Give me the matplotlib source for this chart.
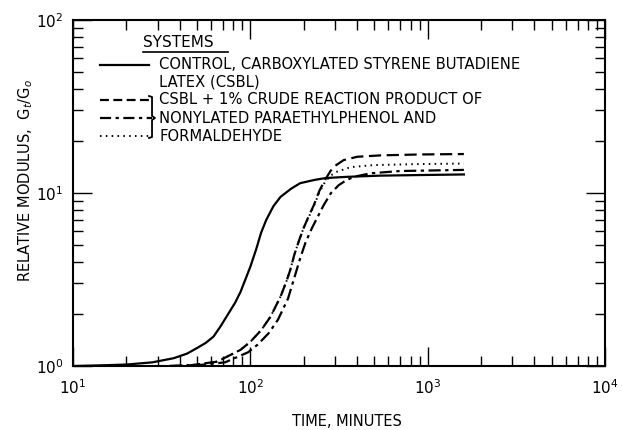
import matplotlib
matplotlib.use("Agg")
import matplotlib.pyplot as plt

# Data (time in minutes, relative modulus Gt/Go)
t_control = [10, 15, 20, 28, 37, 44, 50, 56, 62, 68, 75, 82, 88, 100, 108, 115, 123, 135, 148, 170, 191, 230, 265, 350, 540, 900, 1600]
g_control = [1.00, 1.01, 1.02, 1.05, 1.11, 1.18, 1.27, 1.36, 1.48, 1.7, 2.0, 2.32, 2.68, 3.75, 4.75, 5.9, 7.0, 8.4, 9.5, 10.6, 11.4, 11.9, 12.2, 12.4, 12.6, 12.7, 12.8]

t_dashed = [35, 46, 65, 88, 100, 115, 130, 148, 160, 168, 177, 188, 200, 214, 228, 245, 265, 283, 302, 336, 401, 542, 900, 1600]
g_dashed = [1.0, 1.01, 1.06, 1.24, 1.38, 1.61, 1.93, 2.52, 3.1, 3.6, 4.4, 5.3, 6.3, 7.4, 8.5, 10.3, 12.0, 13.4, 14.4, 15.5, 16.2, 16.5, 16.7, 16.8]

t_dotted = [35, 46, 65, 88, 100, 115, 130, 148, 160, 168, 177, 188, 200, 214, 228, 245, 265, 290, 309, 367, 495, 900, 1600]
g_dotted = [1.0, 1.01, 1.06, 1.24, 1.38, 1.61, 1.93, 2.52, 3.1, 3.6, 4.4, 5.3, 6.3, 7.3, 8.4, 10.1, 11.7, 12.8, 13.3, 14.1, 14.5, 14.7, 14.8]

t_dashdot = [35, 50, 72, 97, 110, 127, 143, 163, 178, 191, 205, 223, 240, 259, 285, 315, 345, 383, 476, 700, 1600]
g_dashdot = [1.0, 1.01, 1.05, 1.2, 1.33, 1.55, 1.85, 2.45, 3.3, 4.2, 5.2, 6.3, 7.3, 8.5, 10.0, 11.1, 11.8, 12.4, 13.0, 13.4, 13.6]

legend_texts = ['CONTROL, CARBOXYLATED STYRENE BUTADIENE',
                'LATEX (CSBL)',
                'CSBL + 1% CRUDE REACTION PRODUCT OF',
                'NONYLATED PARAETHYLPHENOL AND',
                'FORMALDEHYDE']

plt.rcParams['font.family'] = ['DejaVu Sans']

fig = plt.figure(figsize=(6.22, 4.30), dpi=100)
ax = fig.add_axes([0.1174, 0.1488, 0.8553, 0.8047])

lw = 1.6
ax.plot(t_control, g_control, color='black', lw=lw)
ax.plot(t_dashed, g_dashed, color='black', lw=lw, dashes=(5.5, 2.5))
ax.plot(t_dashdot, g_dashdot, color='black', lw=lw, dashes=(5.5, 2, 1.5, 2))
ax.plot(t_dotted, g_dotted, color='black', lw=1.4, dashes=(0.8, 2.2))

ax.set_xscale('log')
ax.set_yscale('log')
ax.set_xlim(10, 1e4)
ax.set_ylim(1, 100)

ax.tick_params(which='both', direction='in', top=True, right=True, width=1, labelsize=11)
ax.tick_params(which='major', length=14, pad=9)
ax.tick_params(which='minor', length=7)
ax.tick_params(axis='y', which='major', pad=7)
for s in ax.spines.values():
    s.set_linewidth(1.5)

fig.text(0.558, 0.02, 'TIME, MINUTES', ha='center', va='center', fontsize=10.5)
fig.text(0.042, 0.58, 'RELATIVE MODULUS,  G$_t$/G$_o$', rotation=90,
         ha='center', va='center', fontsize=10.5)

# hand-made legend, in axes fractions
def fx(px):
    return (px - 73) / 532.0

def fy(py):
    return (366 - py) / 346.0

tr = ax.transAxes
ax.text(fx(143), fy(43), 'SYSTEMS', transform=tr, fontsize=11, va='center', ha='left')
ax.plot([fx(143), fx(228)], [fy(52), fy(52)], transform=tr, color='black', lw=1.2)

rows = [65, 82, 100, 118, 136]
for r, s in zip(rows, legend_texts):
    ax.text(fx(159), fy(r), s, transform=tr, fontsize=10.6, va='center', ha='left')

ax.plot([fx(100), fx(149)], [fy(65)] * 2, transform=tr, color='black', lw=lw)
ax.plot([fx(100), fx(149)], [fy(100)] * 2, transform=tr, color='black', lw=lw, dashes=(4, 2))
ax.plot([fx(100), fx(152)], [fy(118)] * 2, transform=tr, color='black', lw=lw, dashes=(5, 2, 1.5, 2))
ax.plot([fx(100), fx(149)], [fy(136)] * 2, transform=tr, color='black', lw=1.4, dashes=(0.8, 2.2))

# brace joining the three additive systems
bx = [fx(149), fx(152), fx(152), fx(155), fx(152), fx(152), fx(149)]
by = [fy(96), fy(97), fy(116), fy(118), fy(120), fy(137), fy(138)]
ax.plot(bx, by, transform=tr, color='black', lw=1.3)

fig.savefig('out.png', dpi=100)
